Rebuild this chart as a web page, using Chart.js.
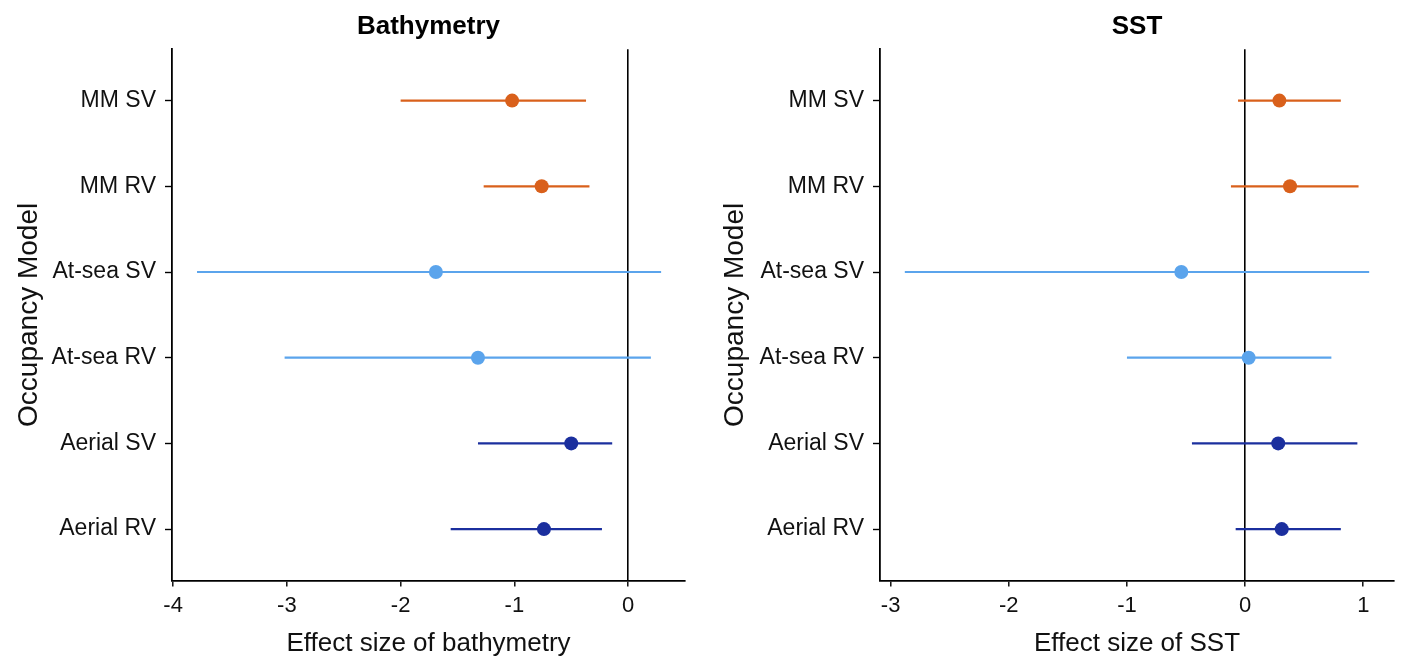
<!DOCTYPE html>
<html>
<head>
<meta charset="utf-8">
<script src="https://cdn.jsdelivr.net/npm/chart.js@4.4.1/dist/chart.umd.min.js"></script>
<style>
  html, body { margin: 0; padding: 0; background: #fff; }
  #wrap { position: relative; width: 1403px; height: 659px; }
  .pane { position: absolute; top: 0; height: 659px; }
</style>
</head>
<body>
<div id="wrap">
  <div class="pane" style="left:0;width:700px"><canvas id="c1" width="700" height="659"></canvas></div>
  <div class="pane" style="left:700px;width:703px"><canvas id="c2" width="703" height="659"></canvas></div>
</div>
<script>
// ---- data (top to bottom) ----
const categories = ["MM SV", "MM RV", "At-sea SV", "At-sea RV", "Aerial SV", "Aerial RV"];
const groupColors = ["#D9601B", "#D9601B", "#5BA4EC", "#5BA4EC", "#1B2F9E", "#1B2F9E"];

const bathyEst  = [-1.02, -0.76, -1.69, -1.32, -0.50, -0.74];
const bathyLow  = [-2.00, -1.27, -3.79, -3.02, -1.32, -1.56];
const bathyHigh = [-0.37, -0.34,  0.29,  0.20, -0.14, -0.23];

const sstEst  = [0.29, 0.38, -0.54, 0.03, 0.28, 0.31];
const sstLow  = [-0.06, -0.12, -2.88, -1.00, -0.45, -0.08];
const sstHigh = [0.81, 0.96, 1.05, 0.73, 0.95, 0.81];

const bathyTicks = [-4, -3, -2, -1, 0];
const sstTicks = [-3, -2, -1, 0, 1];

const FONT = "'Liberation Sans', Arial, Helvetica, sans-serif";

function makeChart(canvasId, opts) {
  const datasets = [];
  categories.forEach((c, i) => {
    datasets.push({
      type: 'line',
      data: [{ x: opts.low[i], y: i + 1 }, { x: opts.high[i], y: i + 1 }],
      borderColor: groupColors[i],
      borderWidth: 2.2,
      pointRadius: 0,
      showLine: true,
      fill: false,
      order: 2
    });
  });
  datasets.push({
    type: 'scatter',
    data: opts.est.map((v, i) => ({ x: v, y: i + 1 })),
    backgroundColor: groupColors,
    borderColor: groupColors,
    pointRadius: 7,
    pointBorderWidth: 0,
    order: 1
  });

  return new Chart(document.getElementById(canvasId), {
    type: 'scatter',
    data: { datasets },
    options: {
      responsive: false,
      animation: false,
      events: [],
      layout: { padding: { left: 0, right: opts.padRight, top: 0, bottom: 0 } },
      plugins: {
        legend: { display: false },
        tooltip: { enabled: false },
        title: {
          display: true,
          text: opts.title,
          fullSize: false,
          color: '#000',
          font: { family: FONT, size: 26, weight: 'bold' },
          padding: { top: 11, bottom: 7 }
        }
      },
      scales: {
        x: {
          type: 'linear',
          min: opts.xmin,
          max: opts.xmax,
          afterBuildTicks: s => { s.ticks = opts.ticks.map(v => ({ value: v })); },
          afterFit: s => { s.height = 78.5; },
          ticks: {
            color: '#111',
            font: { family: FONT, size: 22 },
            padding: 6,
            maxRotation: 0,
            callback: v => String(v)
          },
          grid: {
            drawOnChartArea: true,
            color: ctx => (ctx.tick && ctx.tick.value === 0) ? '#000' : 'rgba(0,0,0,0)',
            lineWidth: 1.6,
            tickColor: '#000',
            tickLength: 6,
            tickWidth: 1.4
          },
          border: { display: true, color: '#000', width: 1.8 },
          title: {
            display: true,
            text: opts.xTitle,
            color: '#111',
            font: { family: FONT, size: 26 },
            padding: { top: 0, bottom: 0 }
          }
        },
        y: {
          type: 'linear',
          reverse: true,
          min: 0.4,
          max: 6.6,
          afterBuildTicks: s => { s.ticks = categories.map((c, i) => ({ value: i + 1 })); },
          afterFit: s => { s.width = opts.yWidth; },
          ticks: {
            color: '#111',
            font: { family: FONT, size: 23 },
            padding: 9,
            callback: v => categories[Math.round(v) - 1]
          },
          grid: {
            drawOnChartArea: false,
            tickColor: '#000',
            tickLength: 7,
            tickWidth: 1.4
          },
          border: { display: true, color: '#000', width: 1.8 },
          title: {
            display: true,
            text: 'Occupancy Model',
            color: '#111',
            font: { family: FONT, size: 28 },
            padding: { top: opts.yTitlePad, bottom: 0 }
          }
        }
      }
    }
  });
}

makeChart('c1', {
  title: 'Bathymetry', xTitle: 'Effect size of bathymetry',
  est: bathyEst, low: bathyLow, high: bathyHigh,
  ticks: bathyTicks, xmin: -4.01, xmax: 0.5,
  yWidth: 172, padRight: 15, yTitlePad: 12
});
makeChart('c2', {
  title: 'SST', xTitle: 'Effect size of SST',
  est: sstEst, low: sstLow, high: sstHigh,
  ticks: sstTicks, xmin: -3.09, xmax: 1.26,
  yWidth: 180, padRight: 9, yTitlePad: 18
});
</script>
</body>
</html>
